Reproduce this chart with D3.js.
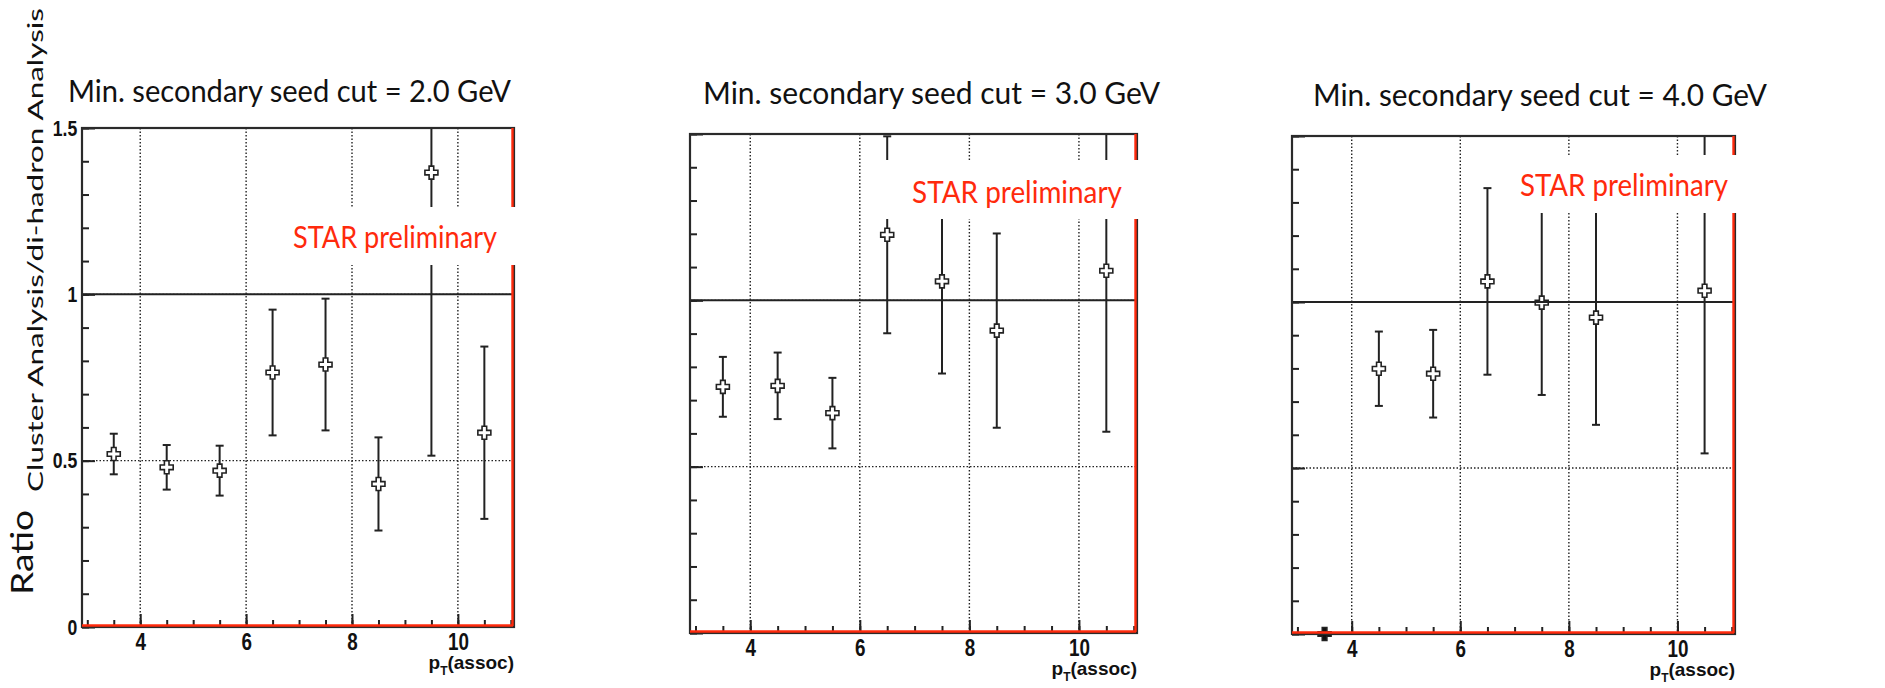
<!DOCTYPE html>
<html>
<head>
<meta charset="utf-8">
<script src="https://cdn.jsdelivr.net/npm/d3@7"></script>
<style>
  body { margin: 0; background: #fff; }
  svg { display: block; }
</style>
</head>
<body>
<svg id="chart"></svg>
<script>
// bins in pT(assoc), one ratio + error per bin and per seed cut (null = no point)
const ptBins = [3.5, 4.5, 5.5, 6.5, 7.5, 8.5, 9.5, 10.5];
const seedCuts = ["2.0", "3.0", "4.0"];

const ratioCut2 = [0.520, 0.480, 0.470, 0.765, 0.789, 0.430, 1.366, 0.584];
const errCut2   = [0.061, 0.067, 0.075, 0.189, 0.198, 0.140, 0.851, 0.259];

const ratioCut3 = [0.740, 0.743, 0.661, 1.197, 1.057, 0.909, null, 1.089];
const errCut3   = [0.090, 0.100, 0.106, 0.296, 0.277, 0.292, null, 0.484];

const ratioCut4 = [0.000, 0.799, 0.784, 1.062, 0.998, 0.953, null, 1.034];
const errCut4   = [0.000, 0.112, 0.132, 0.281, 0.278, 0.323, null, 0.490];

const yMajorTicks = [0, 0.5, 1, 1.5];
const xMajorTicks = [4, 6, 8, 10];

const W = 1885, H = 688;
const svg = d3.select("#chart").attr("width", W).attr("height", H);

// layout of the three pads
const pads = [
  { ratio: ratioCut2, err: errCut2, left: 82, right: 514, top: 128, bottom: 627,
    title: { x: 68, y: 102, len: 443 },
    star: { bx: 280, by: 207, bw: 262, bh: 58, x: 293, y: 248, len: 204 },
    yLabels: true },
  { ratio: ratioCut3, err: errCut3, left: 690, right: 1137, top: 134, bottom: 633,
    title: { x: 703, y: 103.5, len: 457 },
    star: { bx: 880, by: 160, bw: 270, bh: 59, x: 912, y: 203, len: 210 },
    yLabels: false },
  { ratio: ratioCut4, err: errCut4, left: 1292, right: 1735, top: 136, bottom: 634,
    title: { x: 1313, y: 105.5, len: 454 },
    star: { bx: 1505, by: 155, bw: 250, bh: 58, x: 1520, y: 195.5, len: 208 },
    yLabels: false }
];

const titleFont = "Lato, 'Open Sans', sans-serif";
const axisFont = "'Liberation Sans', Arial, sans-serif";
const starRed = "#ff2a0c";

// open cross marker (ROOT style 28)
function crossPath(s, a) {
  return `M${-a},${-s}H${a}V${-a}H${s}V${a}H${a}V${s}H${-a}V${a}H${-s}V${-a}H${-a}Z`;
}

pads.forEach((p, i) => {
  const x = d3.scaleLinear().domain([2.9, 11.06]).range([p.left, p.right]);
  const y = d3.scaleLinear().domain([0, 1.5]).range([p.bottom, p.top]);
  const g = svg.append("g");

  const clipId = "clip" + i;
  svg.append("clipPath").attr("id", clipId)
    .append("rect")
    .attr("x", p.left).attr("y", p.top)
    .attr("width", p.right - p.left).attr("height", p.bottom - p.top);

  // title
  g.append("text")
    .attr("x", p.title.x).attr("y", p.title.y)
    .attr("textLength", p.title.len).attr("lengthAdjust", "spacingAndGlyphs")
    .style("font-family", titleFont).style("font-size", "30px").style("fill", "#111")
    .text(`Min. secondary seed cut = ${seedCuts[i]} GeV`);

  // dotted grid
  g.append("g").selectAll("line").data(xMajorTicks).join("line")
    .attr("x1", d => x(d)).attr("x2", d => x(d))
    .attr("y1", p.top).attr("y2", p.bottom)
    .attr("stroke", "#222").attr("stroke-width", 1.4).attr("stroke-dasharray", "1.5,2");
  g.append("g").selectAll("line").data([0.5, 1]).join("line")
    .attr("x1", p.left).attr("x2", p.right)
    .attr("y1", d => y(d)).attr("y2", d => y(d))
    .attr("stroke", "#222").attr("stroke-width", 1.4).attr("stroke-dasharray", "1.5,2");

  // ticks, pointing inwards
  const yMinor = g.append("g").attr("transform", `translate(${p.left},0)`)
    .call(d3.axisLeft(y).tickValues(d3.range(0, 1.501, 0.1)).tickSize(-7).tickFormat(""));
  const yMajor = g.append("g").attr("transform", `translate(${p.left},0)`)
    .call(d3.axisLeft(y).tickValues(yMajorTicks).tickSize(-13).tickPadding(6)
      .tickFormat(d => p.yLabels ? d3.format("")(d) : ""));
  const xMinor = g.append("g").attr("transform", `translate(0,${p.bottom})`)
    .call(d3.axisBottom(x).tickValues(d3.range(3, 11.01, 0.5)).tickSize(-7).tickFormat(""));
  const xMajor = g.append("g").attr("transform", `translate(0,${p.bottom})`)
    .call(d3.axisBottom(x).tickValues(xMajorTicks).tickSize(-13).tickPadding(6));

  [yMinor, yMajor, xMinor, xMajor].forEach(a => {
    a.select(".domain").remove();
    a.selectAll(".tick line").attr("stroke", "#222").attr("stroke-width", 2);
  });
  yMajor.selectAll("text")
    .style("font-family", axisFont).style("font-weight", "bold")
    .style("font-size", "22px").attr("fill", "#111")
    .attr("transform", "scale(0.8,1)");
  xMajor.selectAll("text")
    .style("font-family", axisFont).style("font-weight", "bold")
    .style("font-size", "23px").attr("fill", "#111")
    .attr("transform", "scale(0.82,1)")
    .attr("dy", "0.72em");

  // x axis title
  const xt = g.append("text")
    .attr("x", p.right).attr("y", p.bottom + 42)
    .attr("text-anchor", "end")
    .style("font-family", axisFont).style("font-weight", "bold")
    .style("font-size", "19px").attr("fill", "#111");
  xt.append("tspan").text("p");
  xt.append("tspan").attr("dy", 6).style("font-size", "12px").text("T");
  xt.append("tspan").attr("dy", -6).text("(assoc)");

  // points
  const pts = ptBins.map((b, k) => ({ x: b, v: p.ratio[k], e: p.err[k] }))
    .filter(d => d.v !== null);
  const data = g.append("g").attr("clip-path", `url(#${clipId})`);

  const bars = pts.filter(d => d.e > 0);
  data.selectAll(".bar").data(bars).join("line")
    .attr("x1", d => x(d.x)).attr("x2", d => x(d.x))
    .attr("y1", d => y(d.v + d.e)).attr("y2", d => y(d.v - d.e))
    .attr("stroke", "#222").attr("stroke-width", 2);
  data.selectAll(".capTop").data(bars).join("line")
    .attr("x1", d => x(d.x) - 4).attr("x2", d => x(d.x) + 4)
    .attr("y1", d => y(d.v + d.e)).attr("y2", d => y(d.v + d.e))
    .attr("stroke", "#222").attr("stroke-width", 2);
  data.selectAll(".capBot").data(bars).join("line")
    .attr("x1", d => x(d.x) - 4).attr("x2", d => x(d.x) + 4)
    .attr("y1", d => y(d.v - d.e)).attr("y2", d => y(d.v - d.e))
    .attr("stroke", "#222").attr("stroke-width", 2);

  g.append("g").selectAll("path").data(pts).join("path")
    .attr("d", crossPath(6.5, 2.3))
    .attr("transform", d => `translate(${x(d.x)},${y(d.v)})`)
    .attr("fill", d => d.v === 0 ? "#111" : "#fff")
    .attr("stroke", "#222").attr("stroke-width", 1.6);

  // reference line at ratio = 1
  g.append("line")
    .attr("x1", p.left).attr("x2", p.right)
    .attr("y1", y(1)).attr("y2", y(1))
    .attr("stroke", "#222").attr("stroke-width", 2);

  // frame
  g.append("rect")
    .attr("x", p.left).attr("y", p.top)
    .attr("width", p.right - p.left).attr("height", p.bottom - p.top)
    .attr("fill", "none").attr("stroke", "#2a2a2a").attr("stroke-width", 2.2);

  // red lines along bottom and right edge
  g.append("line")
    .attr("x1", p.left).attr("x2", p.right - 1)
    .attr("y1", y(0) - 1.5).attr("y2", y(0) - 1.5)
    .attr("stroke", "#ff2a0c").attr("stroke-width", 2.4);
  g.append("line")
    .attr("x1", p.right - 1.5).attr("x2", p.right - 1.5)
    .attr("y1", p.top).attr("y2", p.bottom - 1)
    .attr("stroke", "#ff2a0c").attr("stroke-width", 2.4);

  // STAR preliminary label on a white patch
  g.append("rect")
    .attr("x", p.star.bx).attr("y", p.star.by)
    .attr("width", p.star.bw).attr("height", p.star.bh)
    .attr("fill", "#fff");
  g.append("text")
    .attr("x", p.star.x).attr("y", p.star.y)
    .attr("textLength", p.star.len).attr("lengthAdjust", "spacingAndGlyphs")
    .style("font-family", titleFont).style("font-size", "31px").attr("fill", starRed)
    .text("STAR preliminary");
});

// y axis title
svg.append("text")
  .attr("transform", "translate(33,595) rotate(-90)")
  .attr("textLength", 85).attr("lengthAdjust", "spacingAndGlyphs")
  .style("font-family", titleFont).style("font-size", "31px").attr("fill", "#111")
  .text("Ratio");
svg.append("text")
  .attr("transform", "translate(43,492) rotate(-90)")
  .attr("textLength", 484).attr("lengthAdjust", "spacingAndGlyphs")
  .style("font-family", titleFont).style("font-size", "21px").attr("fill", "#111")
  .text("Cluster Analysis/di-hadron Analysis");
</script>
</body>
</html>
